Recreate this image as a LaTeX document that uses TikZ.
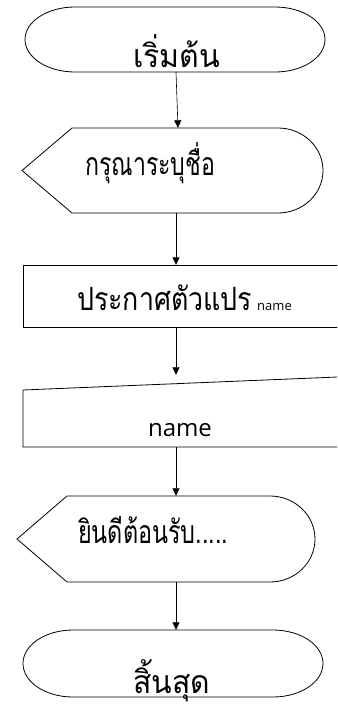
\documentclass[tikz,border=0pt]{standalone}
\usepackage{fontspec}
\usepackage{graphicx}
\usetikzlibrary{arrows.meta}
\newfontfamily\thaifont[Script=Thai]{Loma}
\newfontfamily\latinfont{Open Sans}
\newcommand\fitthai[2]{\resizebox{#1}{\height}{\thaifont\fontsize{32}{36}\selectfont #2}}
\begin{document}
\begin{tikzpicture}[x=1pt,y=-1pt,
  shapeline/.style={draw=black,line width=0.8pt},
  flow/.style={-{Triangle[length=7.5pt,width=7pt]},line width=0.6pt},
  anchorbox/.style={inner sep=0pt,minimum width=1pt,draw=none},
  thaitext/.style={inner sep=0pt,anchor=base west}]
\useasboundingbox (0,0) rectangle (337,706);
\clip (0,0) rectangle (337,706);
% terminator start
\draw[shapeline] (75,7) -- (275,7) arc[start angle=-90,end angle=90,x radius=50,y radius=32.5]
  -- (75,72) arc[start angle=90,end angle=270,x radius=50,y radius=32.5] -- cycle;
% display 1
\draw[shapeline] (72,128) -- (278,128) arc[start angle=-90,end angle=90,x radius=45,y radius=42.5]
  -- (72,213) -- (22,170.5) -- cycle;
% process
\draw[shapeline] (23,265) rectangle (345,327);
% manual input
\draw[shapeline] (23,390) -- (345,376.7) -- (345,447) -- (23,447) -- cycle;
% display 2
\draw[shapeline] (67,496) -- (270,496) arc[start angle=-90,end angle=90,x radius=45,y radius=43]
  -- (67,582) -- (17,539) -- cycle;
% terminator end
\draw[shapeline] (73,630) -- (273,630) arc[start angle=-90,end angle=90,x radius=50,y radius=33.5]
  -- (73,697) arc[start angle=90,end angle=270,x radius=50,y radius=33.5] -- cycle;

% anchor nodes
\node[anchorbox,minimum height=65pt] (start) at (176,39.5) {};
\node[anchorbox,minimum height=85pt] (in1) at (176,170.5) {};
\node[anchorbox,minimum height=62pt] (decl) at (176,296) {};
\node[anchorbox,minimum height=72pt] (man) at (176,411) {};
\node[anchorbox,minimum height=86pt] (out) at (176,539) {};
\node[anchorbox,minimum height=67pt] (stop) at (176,663.5) {};

% texts
\node[thaitext] (t1) at (133,68) {\fitthai{87pt}{เริ่มต้น}};
\node[thaitext] (t2) at (85,175) {\fitthai{130pt}{กรุณาระบุชื่อ}};
\node[thaitext] (t3) at (77,310) {\fitthai{175pt}{ประกาศตัวแปร}\hspace{5pt}{\latinfont\fontsize{13}{15}\selectfont name}};
\node[inner sep=0pt,anchor=base,font=\latinfont\fontsize{24}{28}\selectfont] (t4) at (180,436) {name};
\node[thaitext] (t5) at (78,543) {\fitthai{150pt}{ยินดีต้อนรับ.....}};
\node[thaitext] (t6) at (133,693) {\fitthai{77pt}{สิ้นสุด}};

% connectors
\draw[flow] (start.south) -- ([xshift=2pt]in1.north);
\draw[flow] (in1.south) -- (decl.north);
\draw[flow] (decl.south) -- (man.north);
\draw[flow] (man.south) -- (out.north);
\draw[flow] (out.south) -- (stop.north);
\end{tikzpicture}
\end{document}
